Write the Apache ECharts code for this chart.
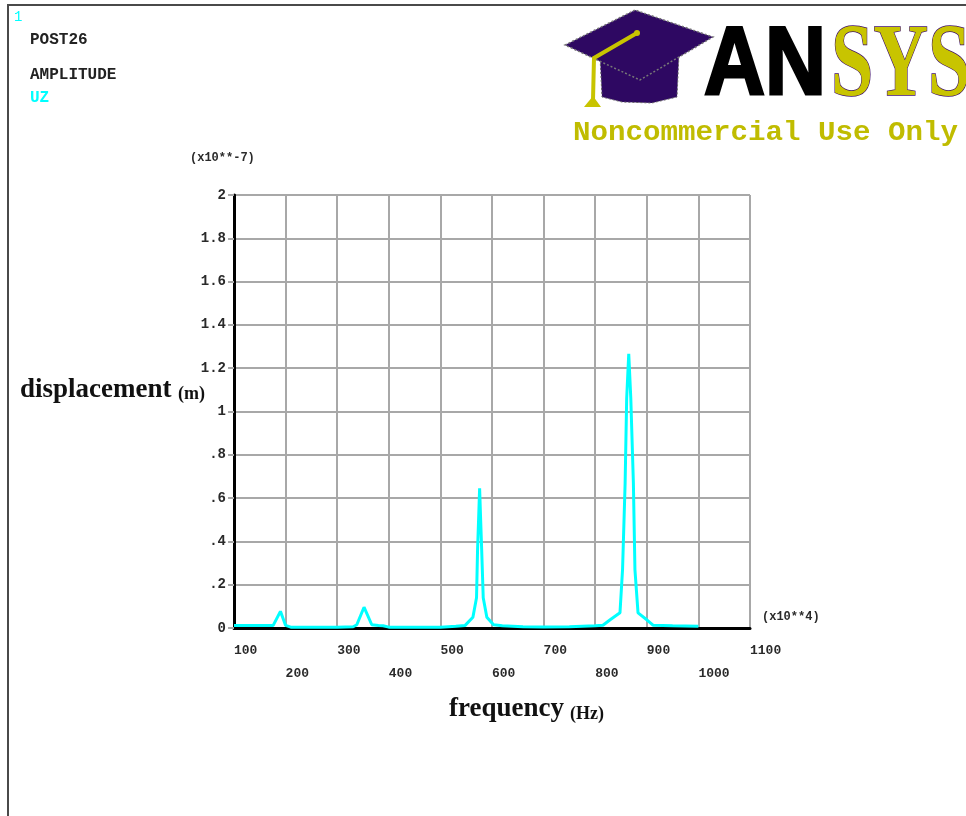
<!DOCTYPE html>
<html>
<head>
<meta charset="utf-8">
<script src="https://cdn.jsdelivr.net/npm/echarts@6/dist/echarts.min.js"></script>
<style>
    * { margin: 0; padding: 0; }
    html, body { background: #fff; }
</style>
</head>
<body>
<!-- 容器 -->
<div id="uzPlot" style="width: 966px;height: 816px;"></div>
<script>
    // 频率 (x10**4) 与 UZ 幅值 (x10**-7 m)
    var freq = [100, 140, 176, 190, 200, 210, 250, 300, 331, 338, 352, 367, 380, 389, 400, 450, 500,
        530, 548, 563, 570, 572, 574, 576, 578, 580, 583, 590, 603, 620, 660, 700, 750, 800,
        815, 829, 848, 853, 858, 861, 865, 869, 874, 877, 883, 900, 912, 950, 1000];
    var amp = [0.012, 0.012, 0.012, 0.077, 0.012, 0.004, 0.003, 0.003, 0.006, 0.015, 0.096, 0.015, 0.012, 0.010, 0.004, 0.003, 0.004,
        0.008, 0.012, 0.05, 0.14, 0.36, 0.5, 0.645, 0.5, 0.36, 0.14, 0.05, 0.015, 0.010, 0.006, 0.005, 0.006, 0.010,
        0.013, 0.038, 0.07, 0.27, 0.67, 1.06, 1.266, 1.06, 0.67, 0.27, 0.07, 0.038, 0.013, 0.010, 0.008];
    var xTicks = [100, 200, 300, 400, 500, 600, 700, 800, 900, 1000, 1100];
    var yTicks = ['0', '.2', '.4', '.6', '.8', '1', '1.2', '1.4', '1.6', '1.8', '2'];

    var monoFont = 'Liberation Mono';
    var serifFont = 'Liberation Serif';
    var ansysYellow = '#c8c400';
    var capPurple = '#2e0862';

    var points = freq.map(function (f, i) { return [f, amp[i]]; });

    var chart = echarts.init(document.getElementById('uzPlot'));
    chart.setOption({
        animation: false,
        backgroundColor: '#fff',
        grid: { left: 234, top: 195, right: 216, bottom: 188 },
        xAxis: {
            type: 'value',
            min: 100,
            max: 1100,
            interval: 100,
            axisLine: { show: true, onZero: false, lineStyle: { color: '#000', width: 3 } },
            axisTick: { show: false },
            splitLine: { show: true, lineStyle: { color: '#a8a8a8', width: 2 } },
            axisLabel: {
                align: 'left',
                margin: 11,
                lineHeight: 23,
                fontFamily: monoFont,
                fontWeight: 'bold',
                fontSize: 13,
                color: '#2a2a2a',
                formatter: function (v) {
                    var idx = xTicks.indexOf(v);
                    return idx % 2 === 1 ? '\n' + v : '' + v;
                }
            }
        },
        yAxis: {
            type: 'value',
            min: 0,
            max: 2,
            interval: 0.2,
            axisLine: { show: true, lineStyle: { color: '#000', width: 3 } },
            axisTick: { show: true, length: 6, lineStyle: { color: '#a8a8a8', width: 2 } },
            splitLine: { show: true, lineStyle: { color: '#a8a8a8', width: 2 } },
            axisLabel: {
                margin: 8,
                padding: [0, 0, 6, 0],
                fontFamily: monoFont,
                fontWeight: 'bold',
                fontSize: 14,
                color: '#2a2a2a',
                formatter: function (v) {
                    return yTicks[Math.round(v / 0.2)];
                }
            }
        },
        series: [{
            name: 'UZ',
            type: 'line',
            data: points,
            showSymbol: false,
            smooth: false,
            lineStyle: { color: '#00ffff', width: 3 },
            z: 3
        }],
        graphic: [
            // 外框
            { type: 'rect', shape: { x: 8, y: 5, width: 1200, height: 1000 }, style: { fill: 'none', stroke: '#4a4a4a', lineWidth: 2 }, silent: true },
            // 左上角文字
            { type: 'text', x: 14, y: 17, style: { text: '1', fill: '#00ffff', font: '14px ' + monoFont, verticalAlign: 'middle' } },
            { type: 'text', x: 30, y: 40, style: { text: 'POST26', fill: '#222', font: 'bold 16px ' + monoFont, verticalAlign: 'middle' } },
            { type: 'text', x: 30, y: 75, style: { text: 'AMPLITUDE', fill: '#222', font: 'bold 16px ' + monoFont, verticalAlign: 'middle' } },
            { type: 'text', x: 30, y: 98, style: { text: 'UZ', fill: '#00ffff', font: 'bold 16px ' + monoFont, verticalAlign: 'middle' } },
            // 坐标单位
            { type: 'text', x: 190, y: 158, style: { text: '(x10**-7)', fill: '#2a2a2a', font: 'bold 12px ' + monoFont, verticalAlign: 'middle' } },
            { type: 'text', x: 762, y: 617, style: { text: '(x10**4)', fill: '#2a2a2a', font: 'bold 12px ' + monoFont, verticalAlign: 'middle' } },
            // 轴标题
            { type: 'text', x: 20, y: 390, style: { text: 'displacement', fill: '#111', font: 'bold 27px ' + serifFont, verticalAlign: 'middle' } },
            { type: 'text', x: 178, y: 394, style: { text: '(m)', fill: '#111', font: 'bold 18px ' + serifFont, verticalAlign: 'middle' } },
            { type: 'text', x: 449, y: 709, style: { text: 'frequency', fill: '#111', font: 'bold 27px ' + serifFont, verticalAlign: 'middle' } },
            { type: 'text', x: 570, y: 714, style: { text: '(Hz)', fill: '#111', font: 'bold 18px ' + serifFont, verticalAlign: 'middle' } },
            // ANSYS 标志
            { type: 'polygon', shape: { points: [[600, 56], [602, 97], [622, 102], [652, 103], [677, 97], [679, 54]] }, style: { fill: capPurple, stroke: '#666', lineWidth: 1, lineDash: [2, 2] } },
            { type: 'polygon', shape: { points: [[565, 45], [635, 10], [713, 37], [640, 80]] }, style: { fill: capPurple, stroke: '#777', lineWidth: 1.5, lineDash: [2, 2] } },
            { type: 'polyline', shape: { points: [[637, 33], [594, 58], [593, 100]] }, style: { stroke: ansysYellow, lineWidth: 4, fill: null } },
            { type: 'circle', shape: { cx: 637, cy: 33, r: 3 }, style: { fill: ansysYellow } },
            { type: 'polygon', shape: { points: [[584, 107], [593, 96], [601, 107]] }, style: { fill: ansysYellow } },
            { type: 'text', x: 704, y: 68, scaleX: 0.88, style: { text: 'AN', fill: '#000', stroke: '#000', lineWidth: 3, font: 'bold 96px Liberation Sans', verticalAlign: 'middle' } },
            { type: 'text', x: 831, y: 68, scaleX: 0.73, style: { text: 'SYS', fill: ansysYellow, stroke: '#3a0a6a', lineWidth: 1.5, font: 'bold 104px ' + serifFont, verticalAlign: 'middle' } },
            { type: 'text', x: 573, y: 133, scaleX: 1.08, style: { text: 'Noncommercial Use Only', fill: '#c0bc00', font: 'bold 27px ' + monoFont, verticalAlign: 'middle', textShadowColor: '#6a6a40', textShadowOffsetX: 1, textShadowOffsetY: 1, textShadowBlur: 0 } }
        ]
    });
</script>
</body>
</html>
